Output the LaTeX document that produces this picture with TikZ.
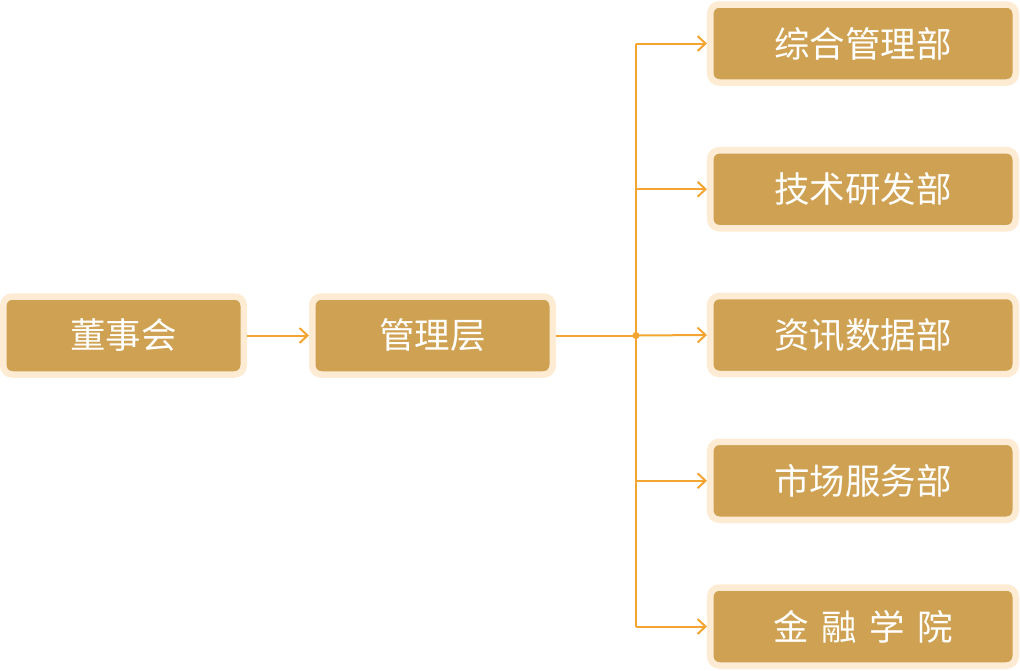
\documentclass[tikz,border=0pt]{standalone}
\usepackage{fontspec}
\newfontfamily\cjk{Noto Sans CJK SC}
\usetikzlibrary{arrows.meta}
\definecolor{boxfill}{HTML}{CFA152}
\definecolor{boxring}{HTML}{FDEBD3}
\definecolor{linkc}{HTML}{F3A431}
\tikzset{
  orgbox/.style={draw=boxring, fill=boxfill, line width=6.5pt, rounded corners=9pt,
    minimum height=78pt, text=white, font=\cjk\fontsize{35.5}{40}\selectfont, inner sep=0pt},
  leftbox/.style={orgbox, minimum width=240.5pt},
  rightbox/.style={orgbox, minimum width=305.5pt},
  link/.style={draw=linkc, line width=2pt},
  linkarrow/.style={link, -{Straight Barb[length=8pt,width=15pt,line width=2pt]}}
}
\begin{document}
\begin{tikzpicture}[x=1pt,y=-1pt]
\useasboundingbox (0,0) rectangle (1020,670);
\node[leftbox] (dsh) at (123.5,335.5) {董事会};
\node[leftbox] (glc) at (432.5,335.5) {管理层};
\node[rightbox] (b1) at (863,43.5) {综合管理部};
\node[rightbox] (b2) at (863,189.25) {技术研发部};
\node[rightbox] (b3) at (863,335) {资讯数据部};
\node[rightbox] (b4) at (863,480.75) {市场服务部};
\node[rightbox] (b5) at (863,626.5) {金\hspace{0.35em}融\hspace{0.35em}学\hspace{0.35em}院};
\coordinate (j) at (636,335.5);
\coordinate (jt) at (636,43.5);
\coordinate (jb) at (636,626.5);
\draw[linkarrow] (dsh.east) -- (glc.west);
\draw[link] (glc.east) -- (j);
\draw[link] (jt) -- (jb);
\draw[linkarrow] (jt) -- (b1.west);
\draw[linkarrow] (636,189.25) -- (b2.west);
\draw[linkarrow] (j) -- (b3.west);
\draw[linkarrow] (636,480.75) -- (b4.west);
\draw[linkarrow] (jb) -- (b5.west);
\fill[linkc] (j) circle (3.5pt);
\end{tikzpicture}
\end{document}
